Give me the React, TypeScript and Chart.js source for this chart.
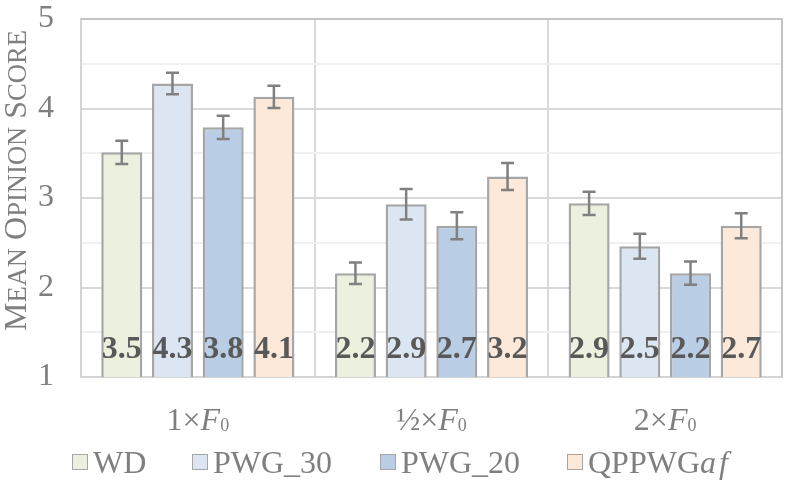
import { useEffect, useRef } from 'react';
import { Chart, registerables } from 'chart.js';

Chart.register(...registerables);

const FONT = '"Liberation Serif", "Times New Roman", serif';

// categories: multiplier of F0
const FACTORS = ['1', '½', '2'];
const CATEGORIES = FACTORS.map((f) => `${f}×F0`);

const SERIES = ['WD', 'PWG_30', 'PWG_20', 'QPPWGaf'];

// mean opinion scores per series (1×F0, ½×F0, 2×F0)
const WD = [3.51, 2.16, 2.94];
const PWG_30 = [4.28, 2.93, 2.46];
const PWG_20 = [3.79, 2.69, 2.16];
const QPPWG_AF = [4.13, 3.24, 2.69];

// error bar half-widths
const WD_ERR = [0.13, 0.12, 0.13];
const PWG_30_ERR = [0.12, 0.17, 0.14];
const PWG_20_ERR = [0.13, 0.15, 0.13];
const QPPWG_AF_ERR = [0.125, 0.15, 0.14];

const VALUES = [WD, PWG_30, PWG_20, QPPWG_AF];
const ERRORS = [WD_ERR, PWG_30_ERR, PWG_20_ERR, QPPWG_AF_ERR];

const FILLS = ['#ebf1de', '#dce6f2', '#b9cde5', '#fde9d9'];
const Y_TITLE = 'Mean Opinion Score';
const LEGEND_LEFT = [72, 192, 380, 567];

const errorBars = {
  id: 'errorBars',
  afterDatasetsDraw(chart: Chart) {
    const { ctx } = chart;
    const y = chart.scales.y;
    ctx.save();
    ctx.strokeStyle = '#808080';
    ctx.lineWidth = 2.5;
    VALUES.forEach((vals, d) => {
      const meta = chart.getDatasetMeta(d);
      vals.forEach((v, i) => {
        const bar: any = meta.data[i];
        const e = ERRORS[d][i];
        const top = y.getPixelForValue(v + e);
        const bot = y.getPixelForValue(v - e);
        ctx.beginPath();
        ctx.moveTo(bar.x, top);
        ctx.lineTo(bar.x, bot);
        ctx.moveTo(bar.x - 6.5, top);
        ctx.lineTo(bar.x + 6.5, top);
        ctx.moveTo(bar.x - 6.5, bot);
        ctx.lineTo(bar.x + 6.5, bot);
        ctx.stroke();
      });
    });
    // value labels at the foot of each bar
    ctx.fillStyle = '#595959';
    ctx.font = `bold 32px ${FONT}`;
    ctx.textAlign = 'center';
    ctx.textBaseline = 'alphabetic';
    const base = y.getPixelForValue(1) - 19;
    VALUES.forEach((vals, d) => {
      const meta = chart.getDatasetMeta(d);
      vals.forEach((v, i) => {
        const bar: any = meta.data[i];
        ctx.fillText(v.toFixed(1), bar.x, base);
      });
    });
    ctx.restore();
  },
};

const frameAndText = {
  id: 'frameAndText',
  afterDraw(chart: Chart) {
    const { ctx, chartArea } = chart;
    const x = chart.scales.x;
    ctx.save();
    // top and right frame
    ctx.strokeStyle = '#c4c4c4';
    ctx.lineWidth = 2;
    ctx.beginPath();
    ctx.moveTo(chartArea.left, chartArea.top);
    ctx.lineTo(chartArea.right, chartArea.top);
    ctx.lineTo(chartArea.right, chartArea.bottom);
    ctx.stroke();

    // category labels: "1×F0" with italic F and subscript 0
    ctx.fillStyle = '#7f7f7f';
    ctx.textBaseline = 'alphabetic';
    ctx.textAlign = 'left';
    const baseY = 429.5;
    FACTORS.forEach((f, i) => {
      const segs = [
        { t: `${f}×`, font: `32px ${FONT}`, dy: 0 },
        { t: 'F', font: `italic 32px ${FONT}`, dy: 0 },
        { t: '0', font: `18px ${FONT}`, dy: 1 },
      ];
      const widths = segs.map((s) => {
        ctx.font = s.font;
        return ctx.measureText(s.t).width;
      });
      const total = widths.reduce((a, b) => a + b, 0);
      let cx = x.getPixelForValue(i) - total / 2;
      segs.forEach((s, k) => {
        ctx.font = s.font;
        ctx.fillText(s.t, cx, baseY + s.dy);
        cx += widths[k];
      });
    });

    // y axis title in small caps
    const parts: { t: string; size: number }[] = [];
    Y_TITLE.split(' ').forEach((w, k) => {
      if (k > 0) parts.push({ t: ' ', size: 32 });
      parts.push({ t: w[0].toUpperCase(), size: 32 });
      parts.push({ t: w.slice(1).toUpperCase(), size: 26.6 });
    });
    const pw = parts.map((p) => {
      ctx.font = `${p.size}px ${FONT}`;
      return ctx.measureText(p.t).width;
    });
    const tot = pw.reduce((a, b) => a + b, 0);
    ctx.translate(26, 180.5);
    ctx.rotate(-Math.PI / 2);
    let px = -tot / 2;
    parts.forEach((p, k) => {
      ctx.font = `${p.size}px ${FONT}`;
      ctx.fillText(p.t, px, 0);
      px += pw[k];
    });
    ctx.restore();
  },
};

function Legend() {
  return (
    <div
      style={{
        position: 'absolute',
        top: 446,
        left: 0,
        width: 789,
        height: 32,
        fontFamily: FONT,
        fontSize: 32,
        lineHeight: '32px',
        color: '#7f7f7f',
        whiteSpace: 'nowrap',
      }}
    >
      {SERIES.map((name, i) => (
        <div
          key={name}
          style={{
            position: 'absolute',
            left: LEGEND_LEFT[i],
            top: 0,
            height: 32,
            display: 'flex',
            alignItems: 'center',
          }}
        >
          <span
            style={{
              display: 'inline-block',
              width: 14,
              height: 14,
              background: FILLS[i],
              border: '1.5px solid #a6a6a6',
              marginRight: 5,
            }}
          />
          <span>
            {name.endsWith('af') ? (
              <>
                {name.slice(0, -2)}
                <i style={{ letterSpacing: 3 }}>af</i>
              </>
            ) : (
              name
            )}
          </span>
        </div>
      ))}
    </div>
  );
}

export default function App() {
  const canvasRef = useRef<HTMLCanvasElement>(null);
  const chartRef = useRef<Chart | null>(null);

  useEffect(() => {
    if (!canvasRef.current) return;
    if (chartRef.current) chartRef.current.destroy();

    chartRef.current = new Chart(canvasRef.current, {
      type: 'bar',
      data: {
        labels: CATEGORIES,
        datasets: SERIES.map((name, i) => ({
          label: name,
          data: VALUES[i],
          backgroundColor: FILLS[i],
          borderColor: '#a6a6a6',
          borderWidth: 2.5,
          borderSkipped: false,
          categoryPercentage: 0.868,
          barPercentage: 0.809,
        })),
      },
      options: {
        responsive: false,
        animation: false,
        layout: { padding: { left: 0, top: 19, right: 7, bottom: 0 } },
        plugins: {
          legend: { display: false },
          tooltip: { enabled: false },
        },
        scales: {
          x: {
            ticks: { display: false },
            grid: { color: '#d9d9d9', lineWidth: 2, drawTicks: false, offset: true },
            border: { color: '#d4d4d4', width: 2 },
            afterFit: (s: any) => {
              s.height = 107;
              s.paddingLeft = 0;
              s.paddingRight = 0;
            },
          },
          y: {
            min: 1,
            max: 5,
            ticks: {
              stepSize: 0.5,
              autoSkip: false,
              padding: 27,
              color: '#7f7f7f',
              font: { family: FONT, size: 32 },
              callback: (v: any) => (Number.isInteger(v) ? String(v) : ''),
            },
            grid: {
              color: (c: any) => (Number.isInteger(c.tick.value) ? '#d9d9d9' : '#f0f0f0'),
              lineWidth: 2,
              drawTicks: false,
            },
            border: { color: '#d4d4d4', width: 2 },
            afterFit: (s: any) => {
              s.width = 81;
              s.paddingTop = 0;
              s.paddingBottom = 0;
            },
          },
        },
      },
      plugins: [errorBars, frameAndText],
    });

    return () => chartRef.current?.destroy();
  }, []);

  return (
    <div style={{ position: 'absolute', top: 0, left: 0, width: 789, height: 484, background: '#fff' }}>
      <canvas ref={canvasRef} width={789} height={484} />
      <Legend />
    </div>
  );
}
